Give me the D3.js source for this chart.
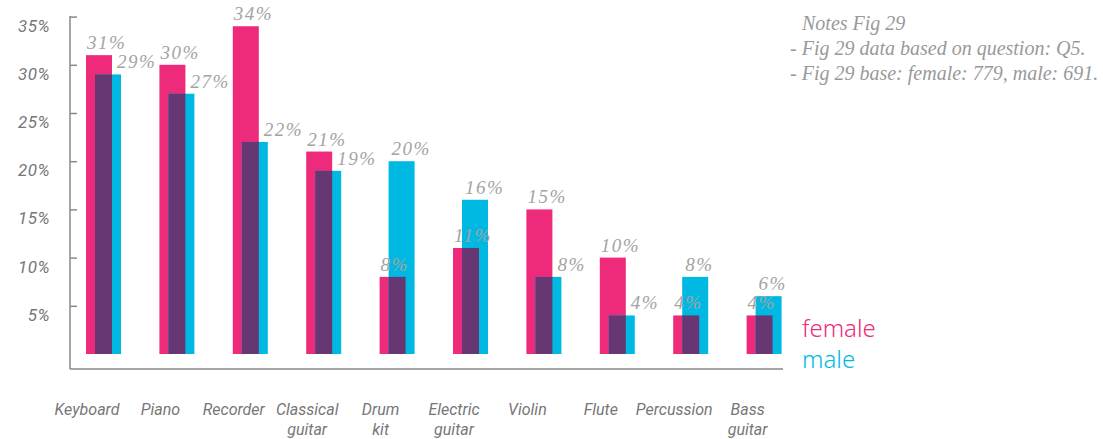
<!DOCTYPE html>
<html>
<head>
<meta charset="utf-8">
<script src="https://cdn.jsdelivr.net/npm/d3@7"></script>
<style>
  body { margin: 0; background: #fff; }
</style>
</head>
<body>
<script>
const categories = [
  ["Keyboard"], ["Piano"], ["Recorder"], ["Classical", "guitar"], ["Drum", "kit"],
  ["Electric", "guitar"], ["Violin"], ["Flute"], ["Percussion"], ["Bass", "guitar"]
];
const female = [31, 30, 34, 21, 8, 11, 15, 10, 4, 4];
const male = [29, 27, 22, 19, 20, 16, 8, 4, 8, 6];
const yTicks = [5, 10, 15, 20, 25, 30, 35];
const notes = [
  "Notes Fig 29",
  "- Fig 29 data based on question: Q5.",
  "- Fig 29 base: female: 779, male: 691."
];

const width = 1103, height = 439;
const pink = "#ee2a7b", cyan = "#00b9e3", purple = "#663773";
const sans = "Roboto, 'DejaVu Sans', sans-serif";
const serif = "'Liberation Serif', 'DejaVu Serif', serif";

const data = categories.map((c, i) => ({
  key: c.join(" "), lines: c, female: female[i], male: male[i]
}));

const svg = d3.select("body").append("svg")
  .attr("width", width)
  .attr("height", height)
  .attr("viewBox", [0, 0, width, height]);

// scales
const x = d3.scaleBand().domain(data.map(d => d.key)).range([76, 810]);
const y = d3.scaleLinear().domain([0, 35]).range([354, 16.6]);
const barW = 26, shift = 9;

// axis lines
svg.append("line")
  .attr("x1", 70).attr("x2", 70).attr("y1", 16).attr("y2", 369)
  .attr("stroke", "#888").attr("stroke-width", 1.5);
svg.append("line")
  .attr("x1", 70).attr("x2", 783).attr("y1", 369).attr("y2", 369)
  .attr("stroke", "#888").attr("stroke-width", 1.5);

// y ticks point inward, labels sit left of the line
const yAxis = svg.append("g")
  .attr("transform", "translate(70,0)")
  .call(d3.axisRight(y).tickValues(yTicks).tickSize(7).tickFormat(""))
  .call(g => g.select(".domain").remove());
yAxis.selectAll(".tick line").attr("stroke", "#888").attr("stroke-width", 1.5);

svg.append("g")
  .selectAll("text")
  .data(yTicks)
  .join("text")
  .attr("x", 50)
  .attr("y", d => y(d) + 15)
  .attr("text-anchor", "end")
  .attr("font-family", sans)
  .attr("font-style", "italic")
  .attr("font-size", 17)
  .attr("letter-spacing", 0.5)
  .attr("fill", "#777")
  .text(d => d + "%");

// bars
const bars = svg.append("g");
bars.selectAll(".f")
  .data(data)
  .join("rect")
  .attr("x", d => x(d.key) + 10)
  .attr("y", d => y(d.female))
  .attr("width", barW)
  .attr("height", d => y(0) - y(d.female))
  .attr("fill", pink);
bars.selectAll(".m")
  .data(data)
  .join("rect")
  .attr("x", d => x(d.key) + 10 + shift)
  .attr("y", d => y(d.male))
  .attr("width", barW)
  .attr("height", d => y(0) - y(d.male))
  .attr("fill", cyan);
// overlap of the two bars
bars.selectAll(".o")
  .data(data)
  .join("rect")
  .attr("x", d => x(d.key) + 10 + shift)
  .attr("y", d => y(Math.min(d.female, d.male)))
  .attr("width", barW - shift)
  .attr("height", d => y(0) - y(Math.min(d.female, d.male)))
  .attr("fill", purple);

// value labels
const valueText = g => g
  .attr("font-family", serif)
  .attr("font-style", "italic")
  .attr("font-size", 19)
  .attr("letter-spacing", 1.5)
  .attr("fill", "#a3a3a3");

svg.append("g").call(valueText)
  .selectAll("text")
  .data(data)
  .join("text")
  .attr("x", d => x(d.key) + 11)
  .attr("y", d => y(d.female) - 6)
  .text(d => d.female + "%");

svg.append("g").call(valueText)
  .selectAll("text")
  .data(data)
  .join("text")
  .attr("x", d => x(d.key) + 10 + shift + (d.male > d.female ? 3 : 22))
  .attr("y", d => y(d.male) - 6)
  .text(d => d.male + "%");

// category labels
svg.append("g")
  .selectAll("text")
  .data(data)
  .join("text")
  .attr("text-anchor", "middle")
  .attr("font-family", sans)
  .attr("font-style", "italic")
  .attr("font-size", 16)
  .attr("fill", "#777")
  .selectAll("tspan")
  .data(d => d.lines.map((l, j) => ({ l, j, d })))
  .join("tspan")
  .attr("x", t => x(t.d.key) + 11)
  .attr("y", t => 415 + t.j * 20)
  .text(t => t.l);

// legend
svg.append("text")
  .attr("x", 802).attr("y", 337)
  .attr("font-family", "'Noto Sans', sans-serif")
  .attr("font-weight", 300)
  .attr("font-size", 24)
  .attr("fill", pink)
  .text("female");
svg.append("text")
  .attr("x", 802).attr("y", 368)
  .attr("font-family", "'Noto Sans', sans-serif")
  .attr("font-weight", 300)
  .attr("font-size", 24)
  .attr("fill", cyan)
  .text("male");

// notes
svg.append("g")
  .selectAll("text")
  .data(notes)
  .join("text")
  .attr("x", (d, i) => i === 0 ? 802 : 790)
  .attr("y", (d, i) => 30 + i * 25)
  .attr("font-family", serif)
  .attr("font-style", "italic")
  .attr("font-size", 20)
  .attr("fill", "#999")
  .text(d => d);
</script>
</body>
</html>
